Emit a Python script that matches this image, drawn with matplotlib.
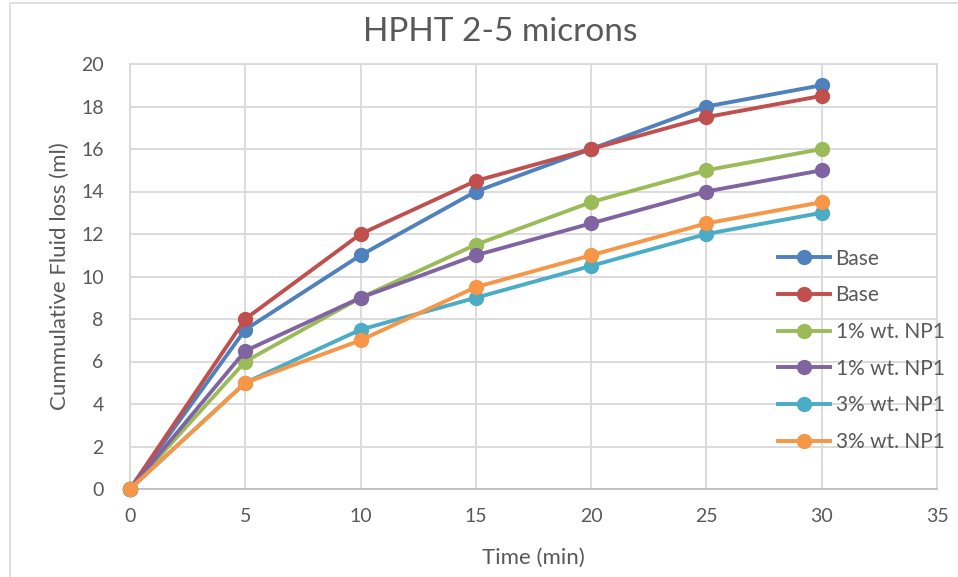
import matplotlib
matplotlib.use("Agg")
import matplotlib.pyplot as plt
from matplotlib.patches import Rectangle

plt.rcParams['font.family'] = ['Lato', 'DejaVu Sans']

time_min = [0, 5, 10, 15, 20, 25, 30]
base_a = [0, 7.5, 11, 14, 16, 18, 19]
base_b = [0, 8, 12, 14.5, 16, 17.5, 18.5]
np1_1pct_a = [0, 6, 9, 11.5, 13.5, 15, 16]
np1_1pct_b = [0, 6.5, 9, 11, 12.5, 14, 15]
np1_3pct_a = [0, 5, 7.5, 9, 10.5, 12, 13]
np1_3pct_b = [0, 5, 7, 9.5, 11, 12.5, 13.5]

series_labels = ["Base", "Base", "1% wt. NP1", "1% wt. NP1", "3% wt. NP1", "3% wt. NP1"]
series_values = [base_a, base_b, np1_1pct_a, np1_1pct_b, np1_3pct_a, np1_3pct_b]
series_colors = ["#4F81BD", "#C0504D", "#9BBB59", "#8064A2", "#4BACC6", "#F79646"]

x_ticks = [0, 5, 10, 15, 20, 25, 30, 35]
y_ticks = [0, 2, 4, 6, 8, 10, 12, 14, 16, 18, 20]

text_color = "#595959"
grid_color = "#D9D9D9"

fig = plt.figure(figsize=(9.58, 5.77), dpi=100)
fig.patches.append(Rectangle((10 / 958, -0.1), 1.2, 1 - 3 / 577 + 0.1,
                             transform=fig.transFigure, fill=False,
                             edgecolor="#D9D9D9", linewidth=1.2))

ax = fig.add_axes([130 / 958, 1 - 489 / 577, (937 - 130) / 958, (489 - 64) / 577])

for vals, lab, col in zip(series_values, series_labels, series_colors):
    ax.plot(time_min, vals, color=col, linewidth=2.8, marker="o",
            markersize=10, label=lab, clip_on=False, zorder=3)

ax.set_xlim(0, 35)
ax.set_ylim(0, 20)
ax.set_xticks(x_ticks)
ax.set_yticks(y_ticks)
ax.grid(True, color=grid_color, linewidth=1.3)
ax.set_axisbelow(True)
for side in ["left", "top", "right"]:
    ax.spines[side].set_color(grid_color)
    ax.spines[side].set_linewidth(1.3)
ax.spines["bottom"].set_color("#BFBFBF")
ax.spines["bottom"].set_linewidth(1.3)
ax.tick_params(length=0, labelsize=14, colors=text_color, pad=14)
ax.tick_params(axis="y", pad=19)

fig.text(500 / 958, 1 - 32 / 577, "HPHT 2-5 microns", fontsize=24,
         color=text_color, ha="center", va="center")
ax.set_xlabel("Time (min)", fontsize=16, color=text_color, labelpad=16)
ax.set_ylabel("Cummulative Fluid loss (ml)", fontsize=16, color=text_color, labelpad=8)

leg = ax.legend(loc="upper left", bbox_to_anchor=(0.793, 0.585), frameon=False,
                fontsize=15, labelcolor=text_color, handlelength=2.5,
                handletextpad=0.25, labelspacing=0.8, borderaxespad=0)
for t in leg.get_texts():
    t.set_color(text_color)

fig.savefig("out.png", dpi=100)
